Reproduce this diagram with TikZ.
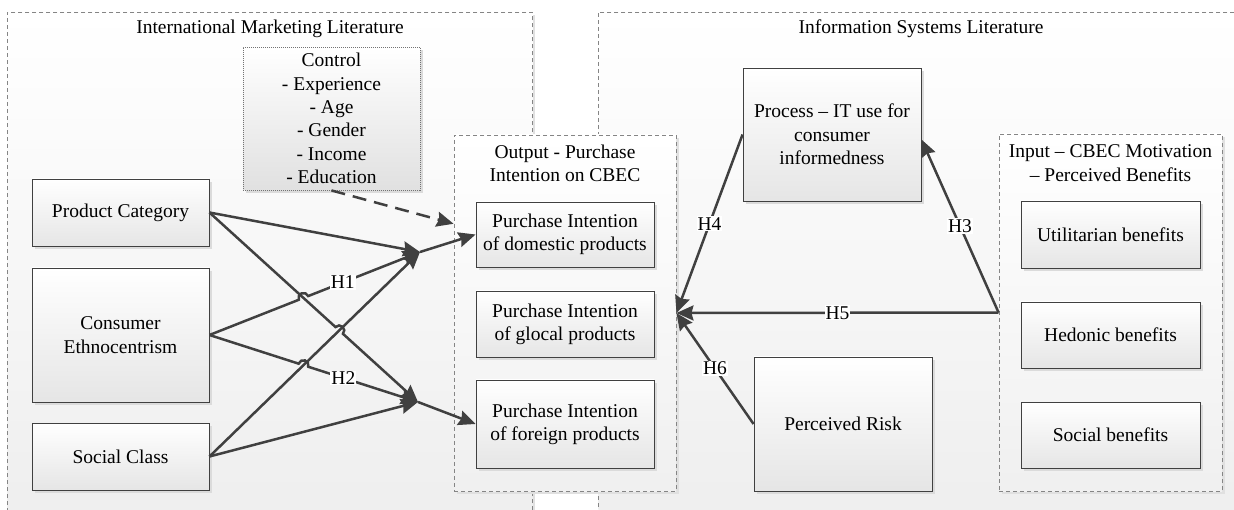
\documentclass[tikz,border=0pt]{standalone}
\usepackage{fontspec}
\setmainfont{Liberation Serif}
\usetikzlibrary{arrows.meta,calc,intersections,shadows}

\definecolor{linegray}{HTML}{404040}
\definecolor{dashgray}{HTML}{858585}

\tikzset{
  every node/.style={font=\fontsize{19.5}{23.3}\selectfont, align=center},
  panel/.style={draw=dashgray, line width=0.9pt, dash pattern=on 4pt off 3pt,
    top color=white, bottom color=black!7,
    general shadow={fill=black!12, shadow xshift=3pt, shadow yshift=-3pt}},
  group/.style={panel, bottom color=black!6},
  box/.style={draw=linegray, line width=0.9pt, top color=white, bottom color=black!10,
    general shadow={fill=black!14, shadow xshift=3pt, shadow yshift=-3pt}},
  ctrlbox/.style={box, draw=black!55, dash pattern=on 1pt off 1pt, bottom color=black!12},
  link/.style={draw=linegray, line width=2.5pt, -{Stealth[length=17pt,width=15pt,inset=2pt]}},
  ctrllink/.style={link, dash pattern=on 14pt off 8pt},
  hlabel/.style={fill=white, inner sep=1pt}
}

\begin{document}
\begin{tikzpicture}[x=1pt, y=-1pt]
\clip (0,0) rectangle (1234,510);

% literature panels
\node[panel, anchor=north west, minimum width=525pt, minimum height=540pt] (iml) at (7,12) {};
\node[panel, anchor=north west, minimum width=650pt, minimum height=540pt] (isl) at (598,12) {};
\node (imltitle) at (270,29) {International Marketing Literature};
\node (isltitle) at (921,29) {Information Systems Literature};

% output and input groups
\node[group, minimum width=222pt, minimum height=356pt] (out) at (565,313) {};
\node (outtitle) at (565,163) {Output - Purchase\\Intention on CBEC};
\node[group, minimum width=223pt, minimum height=357pt] (inp) at (1110.5,312.5) {};
\node (inptitle) at (1110.5,163) {Input -- CBEC Motivation\\-- Perceived Benefits};

% left side
\node[box, minimum width=177pt, minimum height=67pt] (pc) at (120.5,212.5) {Product Category};
\node[box, minimum width=177pt, minimum height=134pt] (ce) at (120.5,335) {Consumer\\Ethnocentrism};
\node[box, minimum width=177pt, minimum height=67pt] (sc) at (120.5,456.5) {Social Class};
\node[ctrlbox, minimum width=177pt, minimum height=143pt] (ctrl) at (331.5,118.5)
  {Control\\- Experience\\- Age\\- Gender\\- Income\\- Education};

% purchase intention
\node[box, minimum width=178pt, minimum height=65pt] (dom) at (565,234.5) {Purchase Intention\\of domestic products};
\node[box, minimum width=178pt, minimum height=66pt] (glo) at (565,324) {Purchase Intention\\of glocal products};
\node[box, minimum width=178pt, minimum height=88pt] (for) at (565,424) {Purchase Intention\\of foreign products};

% right side
\node[box, minimum width=178pt, minimum height=133pt] (proc) at (832,134.5) {Process -- IT use for\\consumer\\informedness};
\node[box, minimum width=178pt, minimum height=134pt] (risk) at (843,424) {Perceived Risk};
\node[box, minimum width=179pt, minimum height=67pt] (util) at (1110.5,234.5) {Utilitarian benefits};
\node[box, minimum width=179pt, minimum height=66pt] (hed) at (1110.5,335) {Hedonic benefits};
\node[box, minimum width=179pt, minimum height=66pt] (socb) at (1110.5,435) {Social benefits};

% junctions and line crossings
\coordinate (j1) at (420,252);
\coordinate (j2) at (418,402);
\path[name path=pcj2] (pc.east) -- (j2);
\path[name path=scj1] (sc.east) -- (j1);
\path[name path=cej1] (ce.east) -- (j1);
\path[name path=cej2] (ce.east) -- (j2);
\path[name intersections={of=cej1 and pcj2, by=k1}];
\path[name intersections={of=pcj2 and scj1, by=k2}];
\path[name intersections={of=cej2 and scj1, by=k3}];

\draw[link] (pc.east) -- (j1);
\draw[link] (sc.east) -- (j1);
\draw[link] (sc.east) -- (j2);
\draw[link] let \p1=($(j1)-(ce.east)$), \n1={atan2(\y1,\x1)}, \n2={\n1+180} in
  (ce.east) -- ($(k1)!5pt!(ce.east)$) arc[start angle=\n2, end angle=\n1, radius=5pt]
  -- (j1) node[hlabel, pos=0.31] {H1};
\draw[link] let \p1=($(j2)-(pc.east)$), \n1={atan2(\y1,\x1)}, \n2={\n1+180} in
  (pc.east) -- ($(k2)!5pt!(pc.east)$) arc[start angle=\n2, end angle=\n1, radius=5pt] -- (j2);
\draw[link] let \p1=($(j2)-(ce.east)$), \n1={atan2(\y1,\x1)}, \n2={\n1+180} in
  (ce.east) -- ($(k3)!5pt!(ce.east)$) arc[start angle=\n2, end angle=\n1, radius=5pt]
  -- (j2) node[hlabel, pos=0.32] {H2};
\draw[link] (j1) -- (dom.west);
\draw[link] (j2) -- (for.west);
\draw[ctrllink] (ctrl.south) -- ($(out.north west)!0.25!(out.south west)$);

% hypotheses on the right
\draw[link] (inp.west) -- ([yshift=-5pt]proc.east) node[hlabel, midway] {H3};
\draw[link] (proc.west) -- (out.east) node[hlabel, midway] {H4};
\draw[link] (inp.west) -- (out.east) node[hlabel, midway] {H5};
\draw[link] (risk.west) -- (out.east) node[hlabel, midway] {H6};

\end{tikzpicture}
\end{document}
